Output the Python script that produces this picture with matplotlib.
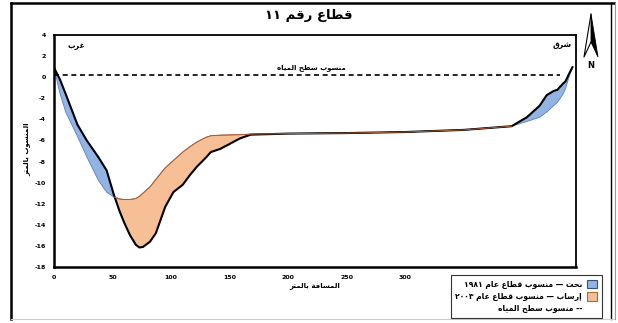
import numpy as np
import matplotlib
matplotlib.use("Agg")
import matplotlib.pyplot as plt
from matplotlib.patches import Patch, Polygon
from matplotlib.lines import Line2D

# cross-section 11: bed level in 1981 and 2003 (metres), distance in metres
distance = [0, 5, 10, 20, 28, 38, 45, 51, 56, 60, 65, 70, 73, 76, 82, 87, 95, 102, 110,
            116, 122, 130, 134, 142, 148, 159, 168, 200, 250, 300, 350, 391, 404,
            415, 421, 427, 430, 435, 437, 440, 443]
level_1981 = [0.9, -0.2, -1.6, -4.5, -6.0, -7.6, -8.85, -11.1, -12.7, -13.8, -15.0,
              -15.9, -16.15, -16.1, -15.6, -14.8, -12.3, -10.9, -10.2, -9.3, -8.5, -7.6,
              -7.1, -6.8, -6.45, -5.8, -5.45, -5.35, -5.3, -5.2, -5.0, -4.65, -3.8,
              -2.7, -1.7, -1.3, -1.2, -0.6, -0.4, 0.3, 0.95]
level_2003 = [0.9, -1.5, -3.3, -5.6, -7.55, -9.8, -10.9, -11.35, -11.55, -11.6, -11.6,
              -11.5, -11.3, -11.0, -10.4, -9.7, -8.6, -7.9, -7.1, -6.6, -6.15, -5.7,
              -5.55, -5.5, -5.48, -5.45, -5.4, -5.35, -5.3, -5.2, -5.0, -4.65, -4.2,
              -3.8, -3.3, -2.7, -2.4, -1.6, -1.1, 0.0, 0.95]
water_level = 0.2
water_extent = [0, 432]

y_ticks = list(range(-18, 5, 2))
x_ticks = list(range(0, 401, 50))

# --- minimal arabic shaping (matplotlib draws glyphs left to right, unjoined) ---
FORMS = {
    'ا': ('\uFE8D', '\uFE8E', None, None),
    'إ': ('\uFE87', '\uFE88', None, None),
    'ب': ('\uFE8F', '\uFE90', '\uFE91', '\uFE92'),
    'ت': ('\uFE95', '\uFE96', '\uFE97', '\uFE98'),
    'ة': ('\uFE93', '\uFE94', None, None),
    'ح': ('\uFEA1', '\uFEA2', '\uFEA3', '\uFEA4'),
    'ر': ('\uFEAD', '\uFEAE', None, None),
    'س': ('\uFEB1', '\uFEB2', '\uFEB3', '\uFEB4'),
    'ش': ('\uFEB5', '\uFEB6', '\uFEB7', '\uFEB8'),
    'ط': ('\uFEC1', '\uFEC2', '\uFEC3', '\uFEC4'),
    'ع': ('\uFEC9', '\uFECA', '\uFECB', '\uFECC'),
    'غ': ('\uFECD', '\uFECE', '\uFECF', '\uFED0'),
    'ف': ('\uFED1', '\uFED2', '\uFED3', '\uFED4'),
    'ق': ('\uFED5', '\uFED6', '\uFED7', '\uFED8'),
    'ل': ('\uFEDD', '\uFEDE', '\uFEDF', '\uFEE0'),
    'م': ('\uFEE1', '\uFEE2', '\uFEE3', '\uFEE4'),
    'ن': ('\uFEE5', '\uFEE6', '\uFEE7', '\uFEE8'),
    'ه': ('\uFEE9', '\uFEEA', '\uFEEB', '\uFEEC'),
    'و': ('\uFEED', '\uFEEE', None, None),
    'ي': ('\uFEF1', '\uFEF2', '\uFEF3', '\uFEF4'),
}


def shape_word(w):
    if not any(c in FORMS for c in w):
        return w
    out = []
    for i, c in enumerate(w):
        if c not in FORMS:
            out.append(c)
            continue
        iso, fin, ini, med = FORMS[c]
        prev = w[i - 1] if i > 0 else None
        nxt = w[i + 1] if i + 1 < len(w) else None
        join_prev = prev in FORMS and FORMS[prev][2] is not None
        join_next = nxt in FORMS and ini is not None
        if join_prev and join_next:
            out.append(med)
        elif join_prev:
            out.append(fin)
        elif join_next:
            out.append(ini)
        else:
            out.append(iso)
    return ''.join(reversed(out))


def ar(text):
    return ' '.join(shape_word(w) for w in reversed(text.split(' ')))


plt.rcParams['font.family'] = ['DejaVu Sans']
plt.rcParams['axes.unicode_minus'] = False

x = np.array(distance)
y81 = np.array(level_1981)
y03 = np.array(level_2003)

BLUE = '#92b4e4'
ORANGE = '#f6bf95'
H = 323  # figure height in pixels, for the pixel-placed ornaments

fig = plt.figure(figsize=(6.18, 3.23), dpi=100)
ax = fig.add_axes([54 / 618, 56 / 323, 522 / 618, 232 / 323])

ax.fill_between(x, y81, y03, where=y03 <= y81, interpolate=True,
                facecolor=BLUE, edgecolor='#5b7fbf', linewidth=0.6, zorder=2)
ax.fill_between(x, y81, y03, where=y03 >= y81, interpolate=True,
                facecolor=ORANGE, edgecolor='#a8623a', linewidth=0.6, zorder=2)
ax.plot(x, y81, color='black', lw=1.5, zorder=3, solid_joinstyle='round')
mid = (x >= 51) & (x <= 391)
ax.plot(x[mid], y03[mid], color='#a8623a', lw=0.7, zorder=4)

ax.plot(water_extent, [water_level, water_level], color='black', lw=1.2,
        linestyle=(0, (3, 2.2)), zorder=3)

ax.set_xlim(0, 446)
ax.set_ylim(-18, 4)
ax.set_xticks(x_ticks)
ax.set_yticks(y_ticks)
ax.tick_params(length=0, labelsize=4.5, pad=6)
for lab in ax.get_xticklabels() + ax.get_yticklabels():
    lab.set_fontweight('bold')
for side in ['left', 'bottom']:
    ax.spines[side].set_linewidth(1.8)
for side in ['top', 'right']:
    ax.spines[side].set_linewidth(1.3)

ax.text(0.025, 0.955, ar('غرب'), transform=ax.transAxes, fontsize=5.5,
        fontweight='bold', ha='left', va='center')
ax.text(0.992, 0.96, ar('شرق'), transform=ax.transAxes, fontsize=5.5,
        fontweight='bold', ha='right', va='center')
ax.text(220, 0.6, ar('منسوب سطح المياه'), fontsize=5, fontweight='bold',
        ha='center', va='bottom')

fig.text(0.5, 1 - 15 / 323, ar('قطاع رقم ١١'), fontsize=9.5, fontweight='bold',
         ha='center', va='center')
fig.text(315 / 618, 1 - 286 / 323, ar('المسافة بالمتر'), fontsize=5,
         fontweight='bold', ha='center', va='center')
fig.text(27 / 618, 1 - 149 / 323, ar('المنسوب بالمتر'), fontsize=5,
         fontweight='bold', ha='center', va='center', rotation=90)

handles = [Patch(facecolor=BLUE, edgecolor='#34507e', lw=0.8),
           Patch(facecolor=ORANGE, edgecolor='#b0692f', lw=0.8),
           Line2D([], [], linestyle='none')]
labels = [ar('نحت — منسوب قطاع عام ١٩٨١'),
          ar('إرساب — منسوب قطاع عام ٢٠٠٣'),
          ar('-- منسوب سطح المياه')]
leg = fig.legend(handles, labels, loc='lower right', markerfirst=False,
                 bbox_to_anchor=(602 / 618, 1 - 318 / 323),
                 prop={'weight': 'bold', 'size': 5.5}, frameon=True,
                 fancybox=False, framealpha=1, edgecolor='#333333',
                 handlelength=1.4, handleheight=1.3, borderpad=0.6,
                 labelspacing=0.45, handletextpad=0.6, borderaxespad=0)
leg.get_frame().set_linewidth(0.8)

# north arrow (pixel coordinates, origin at bottom-left)
fig.patches.append(Polygon([[591, H - 14], [591, H - 42], [598, H - 57]], closed=True,
                           facecolor='black', edgecolor='black', lw=0.6,
                           transform=None))
fig.lines.append(Line2D([591, 584, 591], [H - 14, H - 57, H - 42], color='black',
                        lw=0.8, transform=None))
fig.text(591 / 618, 1 - 66 / 323, 'N', fontsize=6, fontweight='bold',
         ha='center', va='center')

# page frame
frame = dict(transform=fig.transFigure)
fig.lines.append(Line2D([11 / 618, 11 / 618], [0.012, 0.991], color='black', lw=1.8, **frame))
fig.lines.append(Line2D([11 / 618, 614 / 618], [0.991, 0.991], color='black', lw=1.8, **frame))
fig.lines.append(Line2D([611 / 618, 611 / 618], [0.012, 0.991], color='black', lw=1.0, **frame))
fig.lines.append(Line2D([615 / 618, 615 / 618], [0.012, 0.991], color='#999999', lw=0.8, **frame))
fig.lines.append(Line2D([11 / 618, 614 / 618], [0.012, 0.012], color='#cccccc', lw=0.8, **frame))

fig.savefig('out.png', dpi=100)
